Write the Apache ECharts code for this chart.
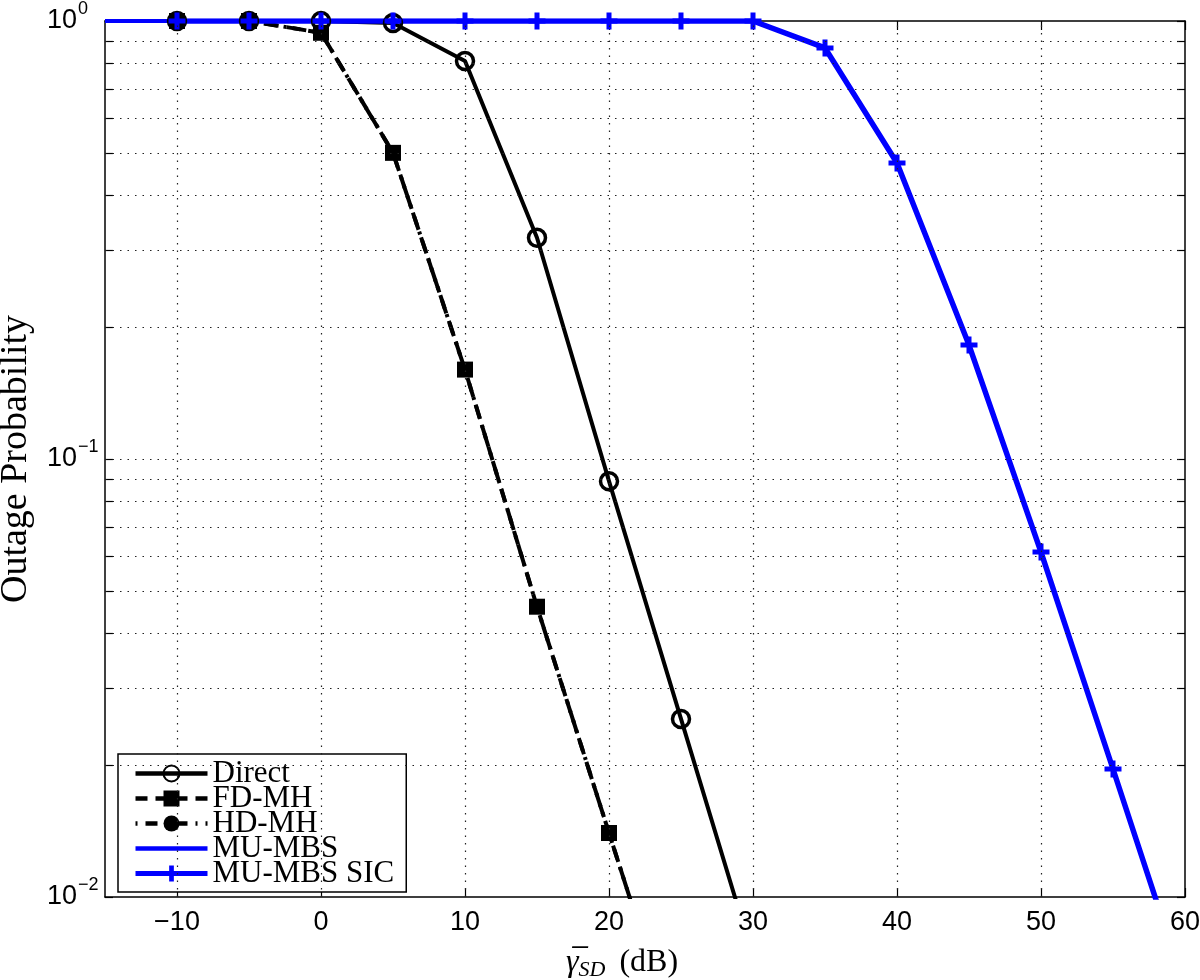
<!DOCTYPE html>
<html>
<head>
<meta charset="utf-8">
<script src="https://cdn.jsdelivr.net/npm/echarts@6/dist/echarts.min.js"></script>
<style>html,body{margin:0;padding:0;background:#fff}#c{width:1200px;height:980px}</style>
</head>
<body>
<div id="c"></div>
<script>
// ---- data ----
const directX = [-10, -5, 0, 5, 10, 15, 20, 25, 30];
const directY = [1, 1, 1, 0.99, 0.81, 0.32, 0.089, 0.0255, 0.0073];
const fdX = [-10, -5, 0, 5, 10, 15, 20, 25];
const fdY = [1, 1, 0.94, 0.50, 0.16, 0.046, 0.014, 0.0043];
const hdX = [-10, -5, 0, 5, 10, 15, 20, 25];
const hdY = [1, 1, 0.94, 0.50, 0.16, 0.046, 0.014, 0.0043];
const mbsX = [-15, -10, -5, 0, 5, 10, 15, 20, 25, 30];
const mbsY = [1, 1, 1, 1, 1, 1, 1, 1, 1, 1];
const sicX = [-10, -5, 0, 5, 10, 15, 20, 25, 30, 35, 40, 45, 50, 55, 60];
const sicY = [1, 1, 1, 1, 1, 1, 1, 1, 1, 0.868, 0.474, 0.182, 0.0613, 0.0196, 0.0062];
const seriesNames = ['Direct', 'FD-MH', 'HD-MH', 'MU-MBS', 'MU-MBS SIC'];
const xTickLabels = [-10, 0, 10, 20, 30, 40, 50, 60];
const xGridVals = [-10, 0, 10, 20, 30, 40, 50];
const yLabelVals = [0.01, 0.1, 1];
const yTickVals = [0.01, 0.02, 0.03, 0.04, 0.05, 0.06, 0.07, 0.08, 0.09, 0.1, 0.2, 0.3, 0.4, 0.5, 0.6, 0.7, 0.8, 0.9, 1];
const yGridVals = [0.02, 0.03, 0.04, 0.05, 0.06, 0.07, 0.08, 0.09, 0.1, 0.2, 0.3, 0.4, 0.5, 0.6, 0.7, 0.8, 0.9];

const zip = (xs, ys) => xs.map((x, i) => [x, ys[i]]);
const plus = 'path://M6,0H11V6H17V11H11V17H6V11H0V6H6Z';
const serif = 'Liberation Serif';
const sans = 'Liberation Sans';

const axisLineStyle = { color: '#000', width: 1.5 };
function xAxisCfg(pos, showLabel) {
  return {
    type: 'value', position: pos, min: -15, max: 60, interval: 5,
    axisLine: { show: true, onZero: false, lineStyle: axisLineStyle },
    axisTick: { show: true, inside: true, length: 9, customValues: xTickLabels, lineStyle: { color: '#000', width: 1.2 } },
    axisLabel: {
      show: showLabel, customValues: xTickLabels, margin: 12,
      fontFamily: sans, fontSize: 27, color: '#000',
      formatter: v => (v < 0 ? '\u2212' + (-v) : String(v))
    },
    splitLine: { show: false }
  };
}
function yAxisCfg(pos, showLabel) {
  return {
    type: 'log', logBase: 10, position: pos, min: 0.01, max: 1,
    axisLine: { show: true, onZero: false, lineStyle: axisLineStyle },
    axisTick: { show: true, inside: true, length: 8, customValues: yTickVals, lineStyle: { color: '#000', width: 1.2 } },
    axisLabel: {
      show: showLabel, customValues: yLabelVals, margin: 58, align: 'left',
      formatter: v => {
        const e = Math.round(Math.log10(v));
        return '{b|10}{s|' + (e < 0 ? '\u2212' + (-e) : e) + '}';
      },
      rich: {
        b: { fontFamily: sans, fontSize: 27, color: '#000', lineHeight: 27 },
        s: { fontFamily: sans, fontSize: 18, color: '#000', lineHeight: 18, padding: [0, 0, 24, 1] }
      }
    },
    splitLine: { show: false }
  };
}

const legendData = [
  { name: 'Direct', lineStyle: { width: 4.5 } },
  { name: 'FD-MH', lineStyle: { width: 4.5, type: [12, 8] } },
  { name: 'HD-MH', lineStyle: { width: 4.5, type: [2, 8, 12, 8] } },
  { name: 'MU-MBS', lineStyle: { width: 4.5 }, itemStyle: { opacity: 0 } },
  { name: 'MU-MBS SIC', lineStyle: { width: 5 } }
];

const chart = echarts.init(document.getElementById('c'), null, { renderer: 'canvas' });
chart.setOption({
  animation: false,
  backgroundColor: '#fff',
  grid: { left: 105, right: 15, top: 21, bottom: 83, containLabel: false, outerBoundsMode: 'none' },
  xAxis: [
    Object.assign(xAxisCfg('bottom', true), {
      name: '{g|\u03B3\u0305}{sub|SD}{n|(dB)}',
      nameLocation: 'middle', nameGap: 50, nameMoveOverlap: false,
      nameTextStyle: {
        padding: [0, 46, 0, 0],
        rich: {
          g: { fontFamily: serif, fontStyle: 'italic', fontSize: 32, color: '#000', lineHeight: 32 },
          sub: { fontFamily: serif, fontStyle: 'italic', fontSize: 22, color: '#000', lineHeight: 22, padding: [14, 0, 0, 0] },
          n: { fontFamily: serif, fontSize: 32, color: '#000', lineHeight: 32, padding: [0, 0, 0, 14] }
        }
      }
    }),
    xAxisCfg('top', false)
  ],
  yAxis: [
    Object.assign(yAxisCfg('left', true), {
      name: 'Outage Probability', nameLocation: 'middle', nameGap: 70, nameRotate: 90, nameMoveOverlap: false,
      nameTextStyle: { fontFamily: serif, fontSize: 38, color: '#000' }
    }),
    yAxisCfg('right', false)
  ],
  legend: {
    orient: 'vertical', left: 118, top: 754,
    data: legendData,
    padding: [4, 12, 3, 15],
    itemWidth: 72, itemHeight: 20, itemGap: -6,
    backgroundColor: '#fff', borderColor: '#000', borderWidth: 1.5, borderRadius: 0,
    textStyle: { fontFamily: serif, fontSize: 31, color: '#000', lineHeight: 24 }
  },
  series: [
    {
      name: '_grid', type: 'line', data: [], z: 1, silent: true,
      markLine: {
        silent: true, symbol: 'none', animation: false,
        label: { show: false },
        lineStyle: { color: '#222', width: 1.2, type: [1.5, 6] },
        emphasis: { disabled: true },
        data: xGridVals.map(v => ({ xAxis: v })).concat(yGridVals.map(v => ({ yAxis: v })))
      }
    },
    {
      name: 'Direct', type: 'line', data: zip(directX, directY), clip: true,
      symbol: 'circle', symbolSize: 17,
      lineStyle: { color: '#000', width: 4 },
      itemStyle: { color: 'rgba(0,0,0,0)', borderColor: '#000', borderWidth: 3.5 }
    },
    {
      name: 'FD-MH', type: 'line', data: zip(fdX, fdY), clip: true,
      symbol: 'rect', symbolSize: 16,
      lineStyle: { color: '#000', width: 4, type: [14, 8] },
      itemStyle: { color: '#000' }
    },
    {
      name: 'HD-MH', type: 'line', data: zip(hdX, hdY), clip: true,
      symbol: 'circle', symbolSize: 14,
      lineStyle: { color: '#000', width: 4, type: [14, 6, 3, 6] },
      itemStyle: { color: '#000' }
    },
    {
      name: 'MU-MBS', type: 'line', data: zip(mbsX, mbsY), clip: true,
      symbol: 'none', showSymbol: false,
      lineStyle: { color: '#0000ff', width: 4 },
      itemStyle: { color: '#0000ff' }
    },
    {
      name: 'MU-MBS SIC', type: 'line', data: zip(sicX, sicY), clip: true,
      symbol: plus, symbolSize: 17,
      lineStyle: { color: '#0000ff', width: 5.5 },
      itemStyle: { color: '#0000ff' }
    }
  ]
});
</script>
</body>
</html>
